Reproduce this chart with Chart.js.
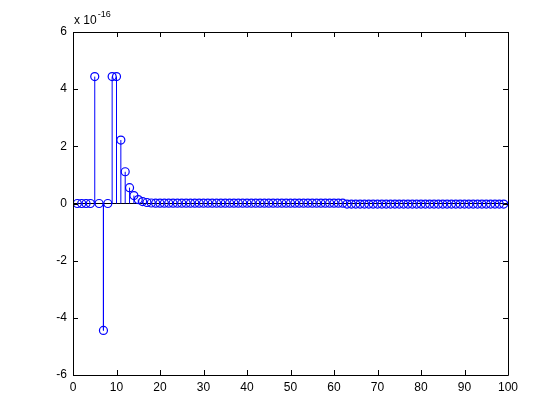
<!DOCTYPE html>
<html>
<head>
<meta charset="utf-8">
<script src="https://cdn.jsdelivr.net/npm/chart.js@4/dist/chart.umd.min.js"></script>
<style>
  html, body { margin: 0; padding: 0; background: #fff; }
  #wrap { position: relative; width: 560px; height: 420px; }
</style>
</head>
<body>
<div id="wrap"><canvas id="stemChart" width="560" height="420"></canvas></div>
<script>
// stem values, in units of 1e-16, for n = 1..99
const stemValues = [
    0, 0, 0, 0, 4.44, 0, -4.44, 0, 4.44, 4.44,
    2.22, 1.11, 0.555, 0.278, 0.139, 0.069, 0.035, 0.017, 0.01, 0.01,
    0.01, 0.01, 0.01, 0.01, 0.01, 0.01, 0.01, 0.01, 0.01, 0.01,
    0.01, 0.01, 0.01, 0.01, 0.01, 0.01, 0.01, 0.01, 0.01, 0.01,
    0.01, 0.01, 0.01, 0.01, 0.01, 0.01, 0.01, 0.01, 0.01, 0.01,
    0.01, 0.01, 0.01, 0.01, 0.01, 0.01, 0.01, 0.01, 0.01, 0.01,
    0.01, 0.01, -0.02, -0.02, -0.02, -0.02, -0.02, -0.02, -0.02, -0.02,
    -0.02, -0.02, -0.02, -0.02, -0.02, -0.02, -0.02, -0.02, -0.02, -0.02,
    -0.02, -0.02, -0.02, -0.02, -0.02, -0.02, -0.02, -0.02, -0.02, -0.02,
    -0.02, -0.02, -0.02, -0.02, -0.02, -0.02, -0.02, -0.02, -0.02
];
const xTicks = [0, 10, 20, 30, 40, 50, 60, 70, 80, 90, 100];
const yTicks = [-6, -4, -2, 0, 2, 4, 6];
const exponentLabel = ['x 10', '-16'];

const tickFont = { family: "'Liberation Sans Narrow', 'Arial Narrow', 'Liberation Sans', Arial, sans-serif", size: 12 };

// points and stems (stem = segment from 0 to value, gaps between)
const points = stemValues.map((v, i) => ({ x: i + 1, y: v }));
const stems = [];
stemValues.forEach((v, i) => {
    stems.push({ x: i + 1, y: 0 });
    stems.push({ x: i + 1, y: v });
    stems.push({ x: i + 1, y: null });
});

// MATLAB style box with inward ticks + exponent label
const boxPlugin = {
    id: 'box',
    afterDraw(chart) {
        const ctx = chart.ctx;
        const a = chart.chartArea;
        const xs = chart.scales.x, ys = chart.scales.y;
        const len = 5;
        ctx.save();
        ctx.strokeStyle = '#000';
        ctx.lineWidth = 1;
        ctx.beginPath();
        ctx.rect(Math.round(a.left) + 0.5, Math.round(a.top) + 0.5,
                 Math.round(a.right - a.left), Math.round(a.bottom - a.top));
        xTicks.forEach(t => {
            const px = Math.round(xs.getPixelForValue(t)) + 0.5;
            ctx.moveTo(px, a.bottom); ctx.lineTo(px, a.bottom - len);
            ctx.moveTo(px, a.top); ctx.lineTo(px, a.top + len);
        });
        yTicks.forEach(t => {
            const py = Math.round(ys.getPixelForValue(t)) + 0.5;
            ctx.moveTo(a.left, py); ctx.lineTo(a.left + len, py);
            ctx.moveTo(a.right, py); ctx.lineTo(a.right - len, py);
        });
        ctx.stroke();

        ctx.fillStyle = '#000';
        ctx.textBaseline = 'alphabetic';
        ctx.font = "12px " + tickFont.family;
        ctx.fillText(exponentLabel[0], a.left + 1, a.top - 8);
        const w = ctx.measureText(exponentLabel[0]).width;
        ctx.font = "9px " + tickFont.family;
        ctx.fillText(exponentLabel[1], a.left + 2 + w, a.top - 15);
        ctx.restore();
    }
};

new Chart(document.getElementById('stemChart'), {
    type: 'scatter',
    data: {
        datasets: [
            {
                label: 'points',
                data: points,
                showLine: false,
                pointStyle: 'circle',
                pointRadius: 4,
                pointBorderWidth: 1.2,
                pointBorderColor: '#0000ff',
                pointBackgroundColor: 'rgba(0,0,0,0)',
                order: 1
            },
            {
                label: 'stems',
                data: stems,
                showLine: true,
                spanGaps: false,
                borderColor: '#0000ff',
                borderWidth: 1,
                pointRadius: 0,
                order: 2
            },
            {
                label: 'baseline',
                data: [{ x: 0, y: 0 }, { x: 100, y: 0 }],
                showLine: true,
                borderColor: '#000000',
                borderWidth: 1,
                pointRadius: 0,
                order: 3
            }
        ]
    },
    options: {
        responsive: false,
        animation: false,
        events: [],
        layout: { padding: { top: 32, right: 52, left: 0, bottom: 0 } },
        plugins: { legend: { display: false }, tooltip: { enabled: false } },
        scales: {
            x: {
                type: 'linear',
                min: 0, max: 100,
                afterBuildTicks: s => { s.ticks = xTicks.map(v => ({ value: v })); },
                afterFit: s => { s.height = 45; },
                grid: { display: false, drawTicks: false },
                border: { display: false },
                ticks: { color: '#000', font: tickFont, padding: 5, maxRotation: 0, autoSkip: false }
            },
            y: {
                type: 'linear',
                min: -6, max: 6,
                afterBuildTicks: s => { s.ticks = yTicks.map(v => ({ value: v })); },
                afterFit: s => { s.width = 73; },
                grid: { display: false, drawTicks: false },
                border: { display: false },
                ticks: { color: '#000', font: tickFont, padding: 6, autoSkip: false }
            }
        }
    },
    plugins: [boxPlugin]
});
</script>
</body>
</html>
